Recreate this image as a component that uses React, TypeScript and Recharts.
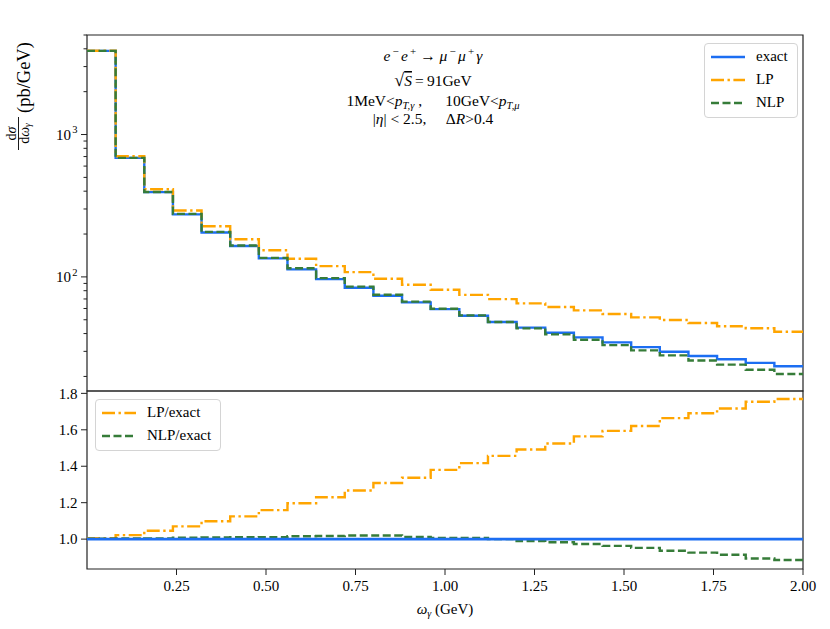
import React from 'react'
import { LineChart, Line, XAxis, YAxis, ReferenceArea, ReferenceLine, Legend } from 'recharts'

// bin edges of the photon energy histogram (GeV)
const binEdges = [
  0, 0.08, 0.16, 0.24, 0.32, 0.4, 0.48, 0.56, 0.64, 0.72, 0.8, 0.88, 0.96,
  1.04, 1.12, 1.2, 1.28, 1.36, 1.44, 1.52, 1.6, 1.68, 1.76, 1.84, 1.92, 2.0,
]

// dσ/dω (pb/GeV), one value per bin
const exact = [
  3865, 685, 394, 275, 205, 165, 135, 113, 96.5, 84, 73.7, 66.2, 59.4,
  53.4, 48.2, 44.0, 40.5, 37.6, 34.7, 32.1, 29.8, 27.8, 26.4, 24.9, 23.6,
]
const lp = [
  3880, 704, 413, 293, 227, 184, 154, 134, 119, 108, 97, 88.1, 81.2,
  74.8, 69.8, 65.2, 61.4, 58.2, 54.9, 52.0, 49.8, 47.4, 45.0, 43.6, 41.2,
]
const nlp = [
  3870, 686, 395, 277, 207, 166, 136, 115, 98, 85.5, 75, 67, 59.8,
  53.7, 48.2, 43.5, 39.5, 36.2, 33.2, 30.5, 28.1, 25.9, 24.2, 22.3, 20.8,
]

// ratios to exact
const lpRatio = [
  1.005, 1.022, 1.046, 1.07, 1.098, 1.125, 1.159, 1.197, 1.23, 1.267, 1.308, 1.337, 1.38,
  1.417, 1.457, 1.492, 1.525, 1.564, 1.594, 1.621, 1.664, 1.691, 1.717, 1.754, 1.769,
]
const nlpRatio = [
  1.002, 1.003, 1.004, 1.008, 1.009, 1.01, 1.011, 1.016, 1.017, 1.02, 1.02, 1.012, 1.007,
  1.006, 1.0, 0.989, 0.983, 0.973, 0.963, 0.952, 0.936, 0.926, 0.914, 0.894, 0.885,
]

const logTicks = [20, 30, 40, 50, 60, 70, 80, 90, 100, 200, 300, 400, 500, 600, 700, 800, 900, 1000, 2000, 3000, 4000, 5000]
const majorLogTicks = [100, 1000]
const ratioTicks = [1.0, 1.2, 1.4, 1.6, 1.8]
const xTicks = [0.25, 0.5, 0.75, 1.0, 1.25, 1.5, 1.75, 2.0]

const FONT = '"Liberation Serif", "DejaVu Serif", serif'
const AXIS = '#222'
const BLUE = '#1c6ef2'
const ORANGE = '#ffa500'
const GREEN = '#367c39'
const LW = 2.4
const DASH = '8 3.5'
const DASHDOT = '13 3.5 2.4 3.5'

const last = exact.length - 1
const rows = binEdges.map((x, i) => {
  const k = Math.min(i, last)
  return { x, exact: exact[k], lp: lp[k], nlp: nlp[k], lpRatio: lpRatio[k], nlpRatio: nlpRatio[k] }
})

const legendOrder = ['exact', 'lp', 'nlp', 'lpRatio', 'nlpRatio']
const dashOf: Record<string, string | undefined> = {
  exact: undefined,
  lp: DASHDOT,
  nlp: DASH,
  lpRatio: DASHDOT,
  nlpRatio: DASH,
}

const LogTick = (props: any) => {
  const { x, y, payload } = props
  const v = payload.value
  const major = majorLogTicks.includes(v)
  return (
    <g>
      <line x1={x - (major ? 6 : 3.5)} x2={x} y1={y} y2={y} stroke={AXIS} strokeWidth={1} />
      {major && (
        <text x={x - 16} y={y} dy="0.35em" textAnchor="end" fontFamily={FONT} fontSize={15} fill="#000">
          10
        </text>
      )}
      {major && (
        <text x={x - 9.5} y={y - 5} dy="0.35em" textAnchor="end" fontFamily={FONT} fontSize={10.5} fill="#000">
          {Math.round(Math.log10(v))}
        </text>
      )}
    </g>
  )
}

const RatioTick = (props: any) => {
  const { x, y, payload } = props
  return (
    <g>
      <line x1={x - 6} x2={x} y1={y} y2={y} stroke={AXIS} strokeWidth={1} />
      <text x={x - 9.5} y={y} dy="0.35em" textAnchor="end" fontFamily={FONT} fontSize={15} fill="#000">
        {payload.value.toFixed(1)}
      </text>
    </g>
  )
}

const XTick = (props: any) => {
  const { x, y, payload } = props
  return (
    <g>
      <line x1={x} x2={x} y1={y} y2={y + 6} stroke={AXIS} strokeWidth={1} />
      <text x={x} y={y + 22} textAnchor="middle" fontFamily={FONT} fontSize={15} fill="#000">
        {payload.value.toFixed(2)}
      </text>
    </g>
  )
}

const LegendBox = (props: any) => {
  const items = [...(props.payload || [])].sort(
    (a: any, b: any) => legendOrder.indexOf(a.dataKey) - legendOrder.indexOf(b.dataKey),
  )
  return (
    <div
      style={{
        border: '1px solid #d4d4d4',
        borderRadius: 4,
        background: 'rgba(255,255,255,0.85)',
        padding: '1px 9px 3px 6px',
        fontFamily: FONT,
        fontSize: 15,
        color: '#000',
        display: 'inline-block',
      }}
    >
      {items.map((it: any) => (
        <div key={it.dataKey} style={{ display: 'flex', alignItems: 'center', height: 23 }}>
          <svg width={34} height={10}>
            <line x1={0} x2={34} y1={5} y2={5} stroke={it.color} strokeWidth={LW} strokeDasharray={dashOf[it.dataKey]} />
          </svg>
          <span style={{ marginLeft: 11, whiteSpace: 'nowrap' }}>{it.value}</span>
        </div>
      ))}
    </div>
  )
}

export default function App() {
  const it = { fontStyle: 'italic' as const }
  return (
    <div style={{ position: 'absolute', left: 0, top: 0, width: 830, height: 629, background: '#fff' }}>
      {/* upper panel: spectrum */}
      <div style={{ position: 'absolute', left: 0, top: 0 }}>
        <LineChart width={830} height={400} data={rows} margin={{ top: 35, right: 27, bottom: 9, left: 0 }}>
          <XAxis dataKey="x" type="number" domain={[0, 2]} hide />
          <YAxis
            scale="log"
            domain={[15.8, 5000]}
            allowDataOverflow
            ticks={logTicks}
            interval={0}
            tick={LogTick}
            tickSize={0}
            tickMargin={0}
            axisLine={false}
            tickLine={false}
            width={87}
          />
          <Line dataKey="exact" name="exact" type="stepAfter" stroke={BLUE} strokeWidth={LW} dot={false} isAnimationActive={false} />
          <Line dataKey="lp" name="LP" type="stepAfter" stroke={ORANGE} strokeWidth={LW} strokeDasharray={DASHDOT} dot={false} isAnimationActive={false} />
          <Line dataKey="nlp" name="NLP" type="stepAfter" stroke={GREEN} strokeWidth={LW} strokeDasharray={DASH} dot={false} isAnimationActive={false} />
          <ReferenceArea x1={0} x2={2} y1={15.8} y2={5000} fill="none" stroke={AXIS} strokeWidth={1.2} ifOverflow="visible" />
          <Legend
            layout="vertical"
            align="center"
            verticalAlign="middle"
            content={LegendBox}
            wrapperStyle={{ left: 704, top: 43, width: 'auto', height: 'auto' }}
          />
        </LineChart>
      </div>

      {/* lower panel: ratios */}
      <div style={{ position: 'absolute', left: 0, top: 381 }}>
        <LineChart width={830} height={248} data={rows} margin={{ top: 10, right: 27, bottom: 0, left: 0 }}>
          <XAxis
            dataKey="x"
            type="number"
            domain={[0, 2]}
            ticks={xTicks}
            interval={0}
            tick={XTick}
            tickSize={0}
            tickMargin={0}
            axisLine={false}
            tickLine={false}
            height={60}
          />
          <YAxis
            domain={[0.836, 1.813]}
            allowDataOverflow
            ticks={ratioTicks}
            interval={0}
            tick={RatioTick}
            tickSize={0}
            tickMargin={0}
            axisLine={false}
            tickLine={false}
            width={87}
          />
          <Line dataKey="lpRatio" name="LP/exact" type="stepAfter" stroke={ORANGE} strokeWidth={LW} strokeDasharray={DASHDOT} dot={false} isAnimationActive={false} />
          <Line dataKey="nlpRatio" name="NLP/exact" type="stepAfter" stroke={GREEN} strokeWidth={LW} strokeDasharray={DASH} dot={false} isAnimationActive={false} />
          <ReferenceLine y={1} stroke={BLUE} strokeWidth={LW + 0.4} />
          <ReferenceArea x1={0} x2={2} y1={0.836} y2={1.813} fill="none" stroke={AXIS} strokeWidth={1.2} ifOverflow="visible" />
          <Legend
            layout="vertical"
            align="center"
            verticalAlign="middle"
            content={LegendBox}
            wrapperStyle={{ left: 95, top: 18, width: 'auto', height: 'auto' }}
          />
        </LineChart>
      </div>

      {/* text overlay */}
      <svg width={830} height={629} style={{ position: 'absolute', left: 0, top: 0, pointerEvents: 'none' }} fontFamily={FONT} fill="#000">
        <g fontSize={15.5} textAnchor="middle">
          <text x={433} y={61}>
            <tspan {...it}>e</tspan>
            <tspan dy={-6} fontSize={11}>{'\u2009−\u2009'}</tspan>
            <tspan dy={6} {...it}>e</tspan>
            <tspan dy={-6} fontSize={11}>{'\u2009+'}</tspan>
            <tspan dy={6}>{'\u00a0→\u00a0'}</tspan>
            <tspan {...it}>μ</tspan>
            <tspan dy={-6} fontSize={11}>{'\u2009−\u2009'}</tspan>
            <tspan dy={6} {...it}>μ</tspan>
            <tspan dy={-6} fontSize={11}>{'\u2009+\u2009'}</tspan>
            <tspan dy={6} {...it}>γ</tspan>
          </text>
          <text x={433} y={86}>
            <tspan fontSize={18}>√</tspan>
            <tspan {...it} textDecoration="overline">S</tspan>
            <tspan>{'\u2009=\u200991GeV'}</tspan>
          </text>
          <text x={433} y={106}>
            <tspan>1MeV&lt;</tspan>
            <tspan {...it}>p</tspan>
            <tspan dy={3} fontSize={10.5} {...it}>T,γ</tspan>
            <tspan dy={-3}>{'\u00a0,\u00a0\u00a0\u00a0\u00a0\u00a0\u00a010GeV<'}</tspan>
            <tspan {...it}>p</tspan>
            <tspan dy={3} fontSize={10.5} {...it}>T,μ</tspan>
          </text>
          <text x={433} y={124}>
            <tspan>|</tspan>
            <tspan {...it}>η</tspan>
            <tspan>{'|\u00a0<\u00a02.5,\u00a0\u00a0\u00a0\u00a0\u00a0Δ'}</tspan>
            <tspan {...it}>R</tspan>
            <tspan>&gt;0.4</tspan>
          </text>
        </g>

        {/* y label, rotated */}
        <g transform="rotate(-90)">
          <text x={-113} y={30} fontSize={18.5}>(pb/GeV)</text>
          <text x={-133.5} y={16} fontSize={14} textAnchor="middle">
            d<tspan {...it}>σ</tspan>
          </text>
          <line x1={-150} x2={-117} y1={18.5} y2={18.5} stroke="#000" strokeWidth={0.9} />
          <text x={-133.5} y={29} fontSize={14} textAnchor="middle">
            d<tspan {...it}>ω</tspan>
            <tspan dy={2} fontSize={9.5} {...it}>γ</tspan>
          </text>
        </g>

        {/* x label */}
        <text x={445} y={614} fontSize={15} textAnchor="middle">
          <tspan {...it}>ω</tspan>
          <tspan dy={3} fontSize={10} {...it}>γ</tspan>
          <tspan dy={-3}>{'\u00a0(GeV)'}</tspan>
        </text>
      </svg>
    </div>
  )
}
